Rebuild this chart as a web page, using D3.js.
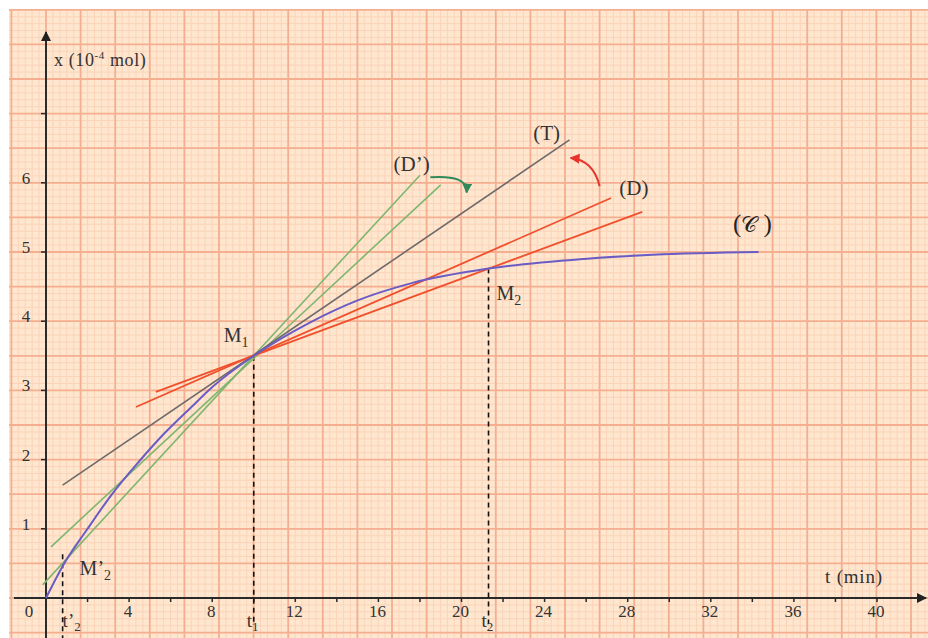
<!DOCTYPE html>
<html><head><meta charset="utf-8">
<script src="https://cdn.jsdelivr.net/npm/d3@7"></script>
<style>html,body{margin:0;padding:0;background:#fff;overflow:hidden}svg{display:block}</style>
</head><body>
<script>
// ---- data (t in min, x in 1e-4 mol) ----
const curveT = [0, 0.8, 2, 3.1, 4.5, 5.7, 7, 7.9, 10, 12.7, 15, 17.6, 21.3, 25.9, 29.2, 34.3];
const curveX = [0, 0.46, 1.0, 1.47, 1.98, 2.38, 2.76, 3.02, 3.5, 3.98, 4.3, 4.55, 4.76, 4.9, 4.96, 5.0];
const tangentT = [0.8, 25.2], tangentX = [1.63, 6.62];          // (T)
const dPrimeAT = [0.24, 19.0], dPrimeAX = [0.74, 5.97];         // (D') line 1
const dPrimeBT = [-0.16, 18.0], dPrimeBX = [0.19, 6.11];        // (D') line 2
const dAT = [4.33, 27.2], dAX = [2.76, 5.78];                   // (D) line 1
const dBT = [5.29, 28.7], dBX = [2.98, 5.58];                   // (D) line 2
const pointNames = ["M\u2019", "M", "M"], pointSubs = ["2", "1", "2"];
const pointT = [0.8, 10, 21.3], pointX = [0.46, 3.5, 4.76];
const timeNames = ["t\u2019", "t", "t"], timeSubs = ["2", "1", "2"];
const xTickValues = [0,2,4,6,8,10,12,14,16,18,20,22,24,26,28,30,32,34,36,38,40];
const xLabelValues = [0,4,8,12,16,20,24,28,32,36,40];
const xLabelTexts = ["0","4","8","12","16","20","24","28","32","36","40"];
const yTickValues = [1,2,3,4,5,6,7];
const yLabelValues = [1,2,3,4,5,6];
const yLabelTexts = ["1","2","3","4","5","6"];
const lineLabels = ["(T)", "(D\u2019)", "(D)"];
const lineLabelT = [24.1, 17.6, 28.3], lineLabelX = [6.72, 6.27, 5.92];
const curveLabelT = 34.0, curveLabelX = 5.42;
// curved annotation arrows: start, control, end
const greenArrowT = [18.5, 20.3, 20.25], greenArrowX = [6.08, 6.12, 5.86];
const redArrowT = [26.65, 26.35, 25.25], redArrowX = [5.95, 6.33, 6.36];

// ---- setup ----
const W = 928, H = 638;
const svg = d3.select("body").append("svg").attr("width", W).attr("height", H);
const x = d3.scaleLinear().domain([0, 40]).range([46, 877]);
const y = d3.scaleLinear().domain([0, 7]).range([598, 598 - 7 * 69.2]);

// ---- graph paper ----
const paper = {x0: 9, y0: 10};
svg.append("rect").attr("x", paper.x0).attr("y", paper.y0).attr("width", W - paper.x0).attr("height", H - paper.y0).attr("fill", "#fee6cf");
const major = 34.6, minor = major / 5;
const gMin = svg.append("g").attr("stroke", "#fbd4b9").attr("stroke-width", 1);
const gMaj = svg.append("g").attr("stroke", "#f5ae90").attr("stroke-width", 1.8);
const ox = x(0), oy = y(0);
for (let k = -Math.ceil((ox - paper.x0) / minor); ox + k * minor <= W; k++) {
  const px = ox + k * minor; if (px < paper.x0) continue;
  const isMaj = k % 5 === 0;
  (isMaj ? gMaj : gMin).append("line").attr("x1", px).attr("x2", px).attr("y1", paper.y0).attr("y2", H);
}
for (let k = -Math.ceil((H - oy) / minor); oy - k * minor >= paper.y0 - 0.5; k++) {
  const py = oy - k * minor;
  const isMaj = k % 5 === 0;
  (isMaj ? gMaj : gMin).append("line").attr("x1", paper.x0).attr("x2", W).attr("y1", py).attr("y2", py);
}
gMaj.raise();

// ---- markers ----
const defs = svg.append("defs");
function marker(id, color, w, h) {
  defs.append("marker").attr("id", id).attr("viewBox", "0 0 10 10").attr("refX", 9).attr("refY", 5)
    .attr("markerWidth", w).attr("markerHeight", h).attr("orient", "auto").attr("markerUnits", "userSpaceOnUse")
    .append("path").attr("d", "M0,0L10,5L0,10Z").attr("fill", color);
}
marker("axArrow", "#222", 12, 10);
marker("gArrow", "#2f8a5a", 10, 10);
marker("rArrow", "#e8332a", 10, 10);

// ---- axes ----
const axisColor = "#2a2a2a";
svg.append("line").attr("x1", 14).attr("x2", 926).attr("y1", y(0)).attr("y2", y(0))
  .attr("stroke", axisColor).attr("stroke-width", 2).attr("marker-end", "url(#axArrow)");
svg.append("line").attr("x1", x(0)).attr("x2", x(0)).attr("y1", H).attr("y2", 32)
  .attr("stroke", axisColor).attr("stroke-width", 2).attr("marker-end", "url(#axArrow)");
svg.append("g").selectAll("line").data(xTickValues.filter(d => d > 0)).join("line")
  .attr("x1", d => x(d)).attr("x2", d => x(d)).attr("y1", y(0)).attr("y2", y(0) + 4)
  .attr("stroke", axisColor).attr("stroke-width", 1.5);
svg.append("g").selectAll("line").data(yTickValues).join("line")
  .attr("x1", x(0) - 5).attr("x2", x(0)).attr("y1", d => y(d)).attr("y2", d => y(d))
  .attr("stroke", axisColor).attr("stroke-width", 1.5);

const serif = "'Liberation Serif','Times New Roman',serif";
svg.append("g").selectAll("text").data(xLabelValues).join("text")
  .attr("x", (d, i) => i === 0 ? x(0) - 17 : x(d) - 1).attr("y", y(0) + 19)
  .attr("text-anchor", "middle").attr("font-family", serif).attr("font-size", 17).attr("fill", "#333")
  .text((d, i) => xLabelTexts[i]);
svg.append("g").selectAll("text").data(yLabelValues).join("text")
  .attr("x", x(0) - 20).attr("y", d => y(d) + 1)
  .attr("text-anchor", "middle").attr("font-family", serif).attr("font-size", 17).attr("fill", "#333")
  .text((d, i) => yLabelTexts[i]);

const yl = svg.append("text").attr("x", x(0) + 8).attr("y", 66).attr("font-family", serif).attr("font-size", 18)
  .attr("letter-spacing", 0.6).attr("fill", "#333");
yl.append("tspan").text("x (10");
yl.append("tspan").attr("dy", -7).attr("font-size", 11).text("-4");
yl.append("tspan").attr("dy", 7).text(" mol)");
svg.append("text").attr("x", 825).attr("y", 583).attr("font-family", serif).attr("font-size", 19)
  .attr("letter-spacing", 0.8).attr("fill", "#333").text("t (min)");

// ---- dashed projections ----
const dashEnds = [H, 624, 624];
svg.append("g").selectAll("line").data(pointT).join("line")
  .attr("x1", d => x(d)).attr("x2", d => x(d)).attr("y1", (d, i) => y(pointX[i]) - (i === 0 ? 12 : 0)).attr("y2", (d, i) => dashEnds[i])
  .attr("stroke", "#111").attr("stroke-width", 1.6).attr("stroke-dasharray", "5,4");

// ---- straight lines ----
function seg(ts, xs, color, w) {
  svg.append("line").attr("x1", x(ts[0])).attr("y1", y(xs[0])).attr("x2", x(ts[1])).attr("y2", y(xs[1]))
    .attr("stroke", color).attr("stroke-width", w);
}
seg(dPrimeAT, dPrimeAX, "#7fb66f", 1.6);
seg(dPrimeBT, dPrimeBX, "#7fb66f", 1.6);
seg(tangentT, tangentX, "#6d6a6a", 1.6);
seg(dAT, dAX, "#f0502c", 1.8);
seg(dBT, dBX, "#f0502c", 1.8);

// ---- curve ----
const curveData = curveT.map((t, i) => [t, curveX[i]]);
svg.append("path").datum(curveData)
  .attr("d", d3.line().x(d => x(d[0])).y(d => y(d[1])).curve(d3.curveMonotoneX))
  .attr("fill", "none").attr("stroke", "#6a5cc4").attr("stroke-width", 2);

// ---- curved arrows ----
function arc(ts, xs, color, mk) {
  const p = d3.path();
  p.moveTo(x(ts[0]), y(xs[0]));
  p.quadraticCurveTo(x(ts[1]), y(xs[1]), x(ts[2]), y(xs[2]));
  svg.append("path").attr("d", p.toString()).attr("fill", "none").attr("stroke", color)
    .attr("stroke-width", 2).attr("marker-end", `url(#${mk})`);
}
arc(greenArrowT, greenArrowX, "#2f8a5a", "gArrow");
arc(redArrowT, redArrowX, "#e8332a", "rArrow");

// ---- labels ----
svg.append("g").selectAll("text").data(lineLabels).join("text")
  .attr("x", (d, i) => x(lineLabelT[i])).attr("y", (d, i) => y(lineLabelX[i]) + 7)
  .attr("text-anchor", "middle").attr("font-family", serif).attr("font-size", 21).attr("fill", "#333")
  .text(d => d);
const cl = svg.append("text").attr("x", x(curveLabelT)).attr("y", y(curveLabelX) + 9)
  .attr("text-anchor", "middle").attr("font-family", serif).attr("font-size", 25).attr("fill", "#222");
cl.append("tspan").text("(");
cl.append("tspan").attr("font-family", "'DejaVu Serif',serif").attr("font-size", 22).text("\u{1D49E}");
cl.append("tspan").text(" )");

const labelOff = [[17, 9], [-30, -14], [8, 31]];
pointT.forEach((t, i) => {
  const tx = svg.append("text").attr("x", x(t) + labelOff[i][0]).attr("y", y(pointX[i]) + labelOff[i][1])
    .attr("font-family", serif).attr("font-size", 20).attr("fill", "#333");
  tx.append("tspan").text(pointNames[i]);
  tx.append("tspan").attr("dy", 5).attr("font-size", 14).text(pointSubs[i]);
  const tt = svg.append("text").attr("x", x(t) + (i === 0 ? 0 : -7)).attr("y", 627)
    .attr("font-family", serif).attr("font-size", 19).attr("fill", "#333");
  tt.append("tspan").text(timeNames[i]);
  tt.append("tspan").attr("dy", 4).attr("font-size", 13).text(timeSubs[i]);
});
</script>
</body></html>
